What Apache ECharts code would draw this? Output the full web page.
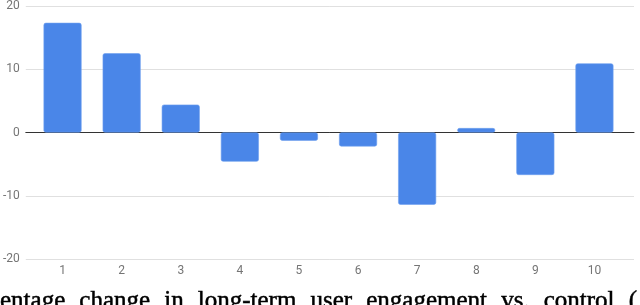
<!DOCTYPE html>
<html><head><meta charset="utf-8">
<script src="https://cdn.jsdelivr.net/npm/echarts@6/dist/echarts.min.js"></script>
<style>html,body{margin:0;padding:0;background:#fff}#c{width:640px;height:305px}</style>
</head><body><div id="c"></div>
<script>
const categories = ['1','2','3','4','5','6','7','8','9','10'];
const values = [17.3, 12.5, 4.4, -4.6, -1.3, -2.2, -11.4, 0.7, -6.7, 10.9];
const yTicks = [-20, -10, 0, 10, 20];
const captionWords = ['entage', 'change', 'in', 'long-term', 'user', 'engagement', 'vs.', 'control', '('];

const chart = echarts.init(document.getElementById('c'));
const gTop = 5.7, gBottom = 45.7;

// justified caption layout (word widths measured, gaps spread evenly)
const capFont = 'normal 25px "Liberation Serif"';
const ctx = document.createElement('canvas').getContext('2d');
ctx.font = capFont;
const widths = captionWords.map(w => ctx.measureText(w).width);
const capStart = 0, capEnd = 637;
const gap = (capEnd - capStart - widths.reduce((a, b) => a + b, 0)) / (captionWords.length - 1);
let cx = capStart;
const captionGraphics = captionWords.map((w, i) => {
  const g = {type: 'text', x: cx, y: 289, silent: true,
    style: {text: w, font: capFont, fill: '#000', stroke: '#000', lineWidth: 0.5, verticalAlign: 'top'}};
  cx += widths[i] + gap;
  return g;
});

chart.setOption({
  animation: false,
  grid: [
    {left: 23, right: 6, top: gTop, bottom: gBottom},
    {left: 33, right: 16, top: gTop, bottom: gBottom}
  ],
  xAxis: [
    {gridIndex: 0, type: 'category', data: categories, show: true,
     axisLabel: {show: false}, axisTick: {show: false},
     axisLine: {show: true, onZero: true, lineStyle: {color: '#333', width: 1}}},
    {gridIndex: 1, type: 'category', data: categories,
     axisLine: {show: false}, axisTick: {show: false},
     axisLabel: {show: true, color: '#757575', fontFamily: 'Roboto', fontSize: 12, margin: 6}}
  ],
  yAxis: [
    {gridIndex: 0, type: 'value', min: yTicks[0], max: yTicks[yTicks.length-1], interval: 10,
     axisLine: {show: false}, axisTick: {show: false},
     axisLabel: {color: '#757575', fontFamily: 'Roboto', fontSize: 12, margin: 6},
     splitLine: {lineStyle: {color: '#e0e0e0', width: 1}}},
    {gridIndex: 1, type: 'value', min: yTicks[0], max: yTicks[yTicks.length-1], interval: 10,
     show: false, splitLine: {show: false}}
  ],
  series: [{
    type: 'bar', xAxisIndex: 1, yAxisIndex: 1, data: values,
    barWidth: 38, z: 3,
    itemStyle: {color: '#4a86e8', borderRadius: 2, borderColor: '#6fa0ef', borderWidth: 0.6}
  }],
  graphic: captionGraphics
});
</script></body></html>
